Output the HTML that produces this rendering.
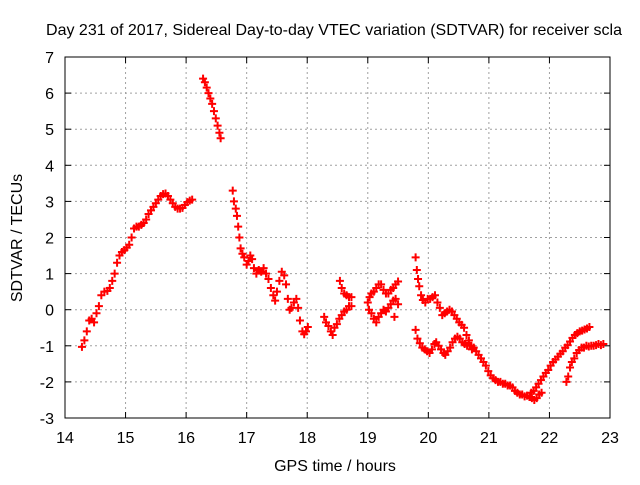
<!DOCTYPE html>
<html><head><meta charset="utf-8"><style>
body{margin:0;background:#fff}
svg text{font-family:"Liberation Sans",sans-serif;font-size:16px;fill:#000}
</style></head><body>
<svg id="chart" width="640" height="480" viewBox="0 0 640 480" xmlns="http://www.w3.org/2000/svg">
<rect width="640" height="480" fill="#fff"/>
<text x="334" y="35" text-anchor="middle">Day 231 of 2017, Sidereal Day-to-day VTEC variation (SDTVAR) for receiver scla</text>
<g id="grid"></g>
<g id="axes"></g>
<g id="marks"></g>
<text x="335" y="471" text-anchor="middle">GPS time / hours</text>
<text transform="translate(22,238) rotate(-90)" text-anchor="middle">SDTVAR / TECUs</text>
</svg>
<script>
const xTicks=[14,15,16,17,18,19,20,21,22,23];
const yTicks=[-3,-2,-1,0,1,2,3,4,5,6,7];
const hours=[14.28,14.32,14.36,14.40,14.44,14.48,14.52,14.56,14.60,14.65,14.70,14.74,14.78,14.82,14.86,14.90,14.94,14.98,15.02,15.06,15.10,15.14,15.18,15.22,15.26,15.30,15.34,15.38,15.42,15.46,15.50,15.54,15.58,15.62,15.66,15.70,15.74,15.78,15.82,15.86,15.90,15.94,15.98,16.02,16.06,16.10,
16.28,16.31,16.34,16.37,16.40,16.43,16.46,16.49,16.52,16.55,16.57,
16.77,16.79,16.82,16.84,16.86,16.88,16.90,16.93,16.96,17.00,17.03,17.06,17.09,17.12,17.16,17.20,17.24,17.28,17.32,17.36,17.40,17.44,17.47,17.50,17.54,17.58,17.62,17.65,17.68,17.71,17.74,17.78,17.82,17.85,17.88,17.92,17.95,17.98,18.01,
18.28,18.31,18.35,18.39,18.42,18.45,18.49,18.53,18.57,18.61,18.65,18.69,18.73,18.54,18.57,18.61,18.65,18.69,18.73,
19.00,19.03,19.06,19.10,19.14,19.18,19.22,19.26,19.30,19.34,19.38,19.42,19.46,19.50,19.02,19.06,19.10,19.14,19.18,19.22,19.26,19.30,19.34,19.38,19.42,19.46,19.50,19.44,
19.79,19.81,19.83,19.85,19.88,19.91,19.95,19.99,20.03,20.07,20.11,20.15,20.19,20.23,20.27,20.31,20.35,20.39,20.43,20.47,20.51,20.55,20.59,20.63,20.67,20.71,20.75,20.79,20.83,20.87,20.91,20.95,20.99,21.03,21.07,21.11,21.15,21.19,21.23,21.27,21.31,21.35,21.39,21.43,21.47,21.51,21.55,21.59,21.63,21.67,21.71,21.75,21.79,21.83,21.87,
21.70,21.74,21.78,21.82,21.86,21.90,21.94,21.98,22.02,22.06,22.10,22.14,22.18,22.22,22.26,22.30,22.34,22.38,22.42,22.46,22.50,22.54,22.58,22.62,22.66,
19.79,19.82,19.86,19.90,19.94,19.98,20.02,20.06,20.10,20.13,20.17,20.21,20.25,20.28,20.32,20.36,20.40,20.44,20.48,20.52,20.56,20.60,20.64,20.68,20.72,
22.28,22.31,22.34,22.37,22.41,22.45,22.49,22.53,22.57,22.61,22.65,22.69,22.73,22.77,22.81,22.85,22.89];
const values=[-1.03,-0.85,-0.6,-0.3,-0.25,-0.35,-0.1,0.1,0.4,0.5,0.52,0.6,0.8,1.0,1.3,1.5,1.6,1.65,1.72,1.8,2.0,2.25,2.3,2.3,2.35,2.4,2.5,2.65,2.75,2.85,2.95,3.05,3.15,3.2,3.22,3.15,3.05,2.95,2.85,2.8,2.8,2.82,2.9,2.98,3.02,3.05,
6.4,6.3,6.15,6.0,5.85,5.7,5.5,5.3,5.1,4.9,4.75,
3.3,3.0,2.8,2.6,2.3,2.0,1.7,1.55,1.45,1.25,1.35,1.5,1.4,1.15,1.0,1.1,1.05,1.15,1.0,0.85,0.6,0.4,0.25,0.5,0.8,1.05,0.95,0.7,0.3,0.0,0.05,0.2,0.3,0.05,-0.3,-0.6,-0.68,-0.6,-0.48,
-0.2,-0.35,-0.45,-0.6,-0.7,-0.5,-0.4,-0.25,-0.15,-0.05,0.0,0.1,0.1,0.8,0.6,0.45,0.4,0.35,0.35,
0.2,0.35,0.45,0.5,0.6,0.7,0.7,0.55,0.45,0.45,0.55,0.6,0.7,0.78,0.0,-0.1,-0.25,-0.35,-0.2,-0.1,0.0,-0.05,0.05,0.15,0.25,0.3,0.15,-0.2,
1.45,1.1,0.85,0.65,0.4,0.27,0.2,0.3,0.3,0.35,0.4,0.2,0.05,-0.15,-0.1,-0.05,0.0,-0.05,-0.15,-0.25,-0.35,-0.42,-0.5,-0.7,-0.85,-1.0,-1.05,-1.15,-1.25,-1.35,-1.45,-1.55,-1.7,-1.82,-1.9,-1.95,-2.0,-2.0,-2.05,-2.05,-2.1,-2.1,-2.15,-2.25,-2.3,-2.35,-2.35,-2.4,-2.38,-2.42,-2.45,-2.5,-2.45,-2.35,-2.3,
-2.3,-2.25,-2.15,-2.05,-1.95,-1.85,-1.75,-1.67,-1.55,-1.45,-1.38,-1.3,-1.22,-1.15,-1.05,-0.98,-0.88,-0.78,-0.7,-0.65,-0.6,-0.58,-0.55,-0.52,-0.48,
-0.56,-0.8,-0.93,-1.05,-1.1,-1.15,-1.2,-1.1,-0.95,-0.9,-1.0,-1.1,-1.2,-1.25,-1.15,-1.05,-0.9,-0.8,-0.75,-0.8,-0.9,-0.95,-1.0,-1.0,-1.1,
-2.0,-1.85,-1.6,-1.45,-1.35,-1.2,-1.12,-1.05,-1.05,-1.0,-1.02,-1.0,-1.0,-0.98,-0.95,-0.98,-0.95];

const X0=65,X1=610,Y0=418,Y1=57,xmin=14,xmax=23,ymin=-3,ymax=7;
const sx=h=>X0+(h-xmin)/(xmax-xmin)*(X1-X0);
const sy=v=>Y0-(v-ymin)/(ymax-ymin)*(Y0-Y1);
const NS='http://www.w3.org/2000/svg';
function mk(tag,attrs,parent){const e=document.createElementNS(NS,tag);for(const k in attrs)e.setAttribute(k,attrs[k]);parent.appendChild(e);return e;}
const grid=document.getElementById('grid'),axes=document.getElementById('axes'),marks=document.getElementById('marks');
xTicks.forEach(t=>{
  const x=sx(t);
  if(t>xmin&&t<xmax){const g=mk('line',{x1:x,x2:x,y1:Y1,y2:Y0,stroke:'#a0a0a0','stroke-dasharray':'2,3'},grid);
    
    }
  mk('line',{x1:x,x2:x,y1:Y0,y2:Y0-6,stroke:'#000'},axes);
  mk('line',{x1:x,x2:x,y1:Y1,y2:Y1+6,stroke:'#000'},axes);
  const tx=mk('text',{x:x,y:Y0+25,'text-anchor':'middle'},axes);tx.textContent=t;
  
  
});
yTicks.forEach(t=>{
  const y=sy(t);
  if(t>ymin&&t<ymax){const g=mk('line',{x1:X0,x2:X1,y1:y,y2:y,stroke:'#a0a0a0','stroke-dasharray':'2,3'},grid);
    
    }
  mk('line',{x1:X0,x2:X0+6,y1:y,y2:y,stroke:'#000'},axes);
  mk('line',{x1:X1,x2:X1-6,y1:y,y2:y,stroke:'#000'},axes);
  const tx=mk('text',{x:X0-11,y:y+6,'text-anchor':'end'},axes);tx.textContent=t;
  
  
});
const frame=mk('rect',{x:X0,y:Y1,width:X1-X0,height:Y0-Y1,fill:'none',stroke:'#000'},axes);


let d='';
for(let i=0;i<hours.length;i++){const x=sx(hours[i]),y=sy(values[i]);d+=`M${x-4},${y}h8M${x},${y-4}v8`;}
const p=mk('path',{d:d,stroke:'#ff0000','stroke-width':2,fill:'none'},marks);


</script>
</body></html>
